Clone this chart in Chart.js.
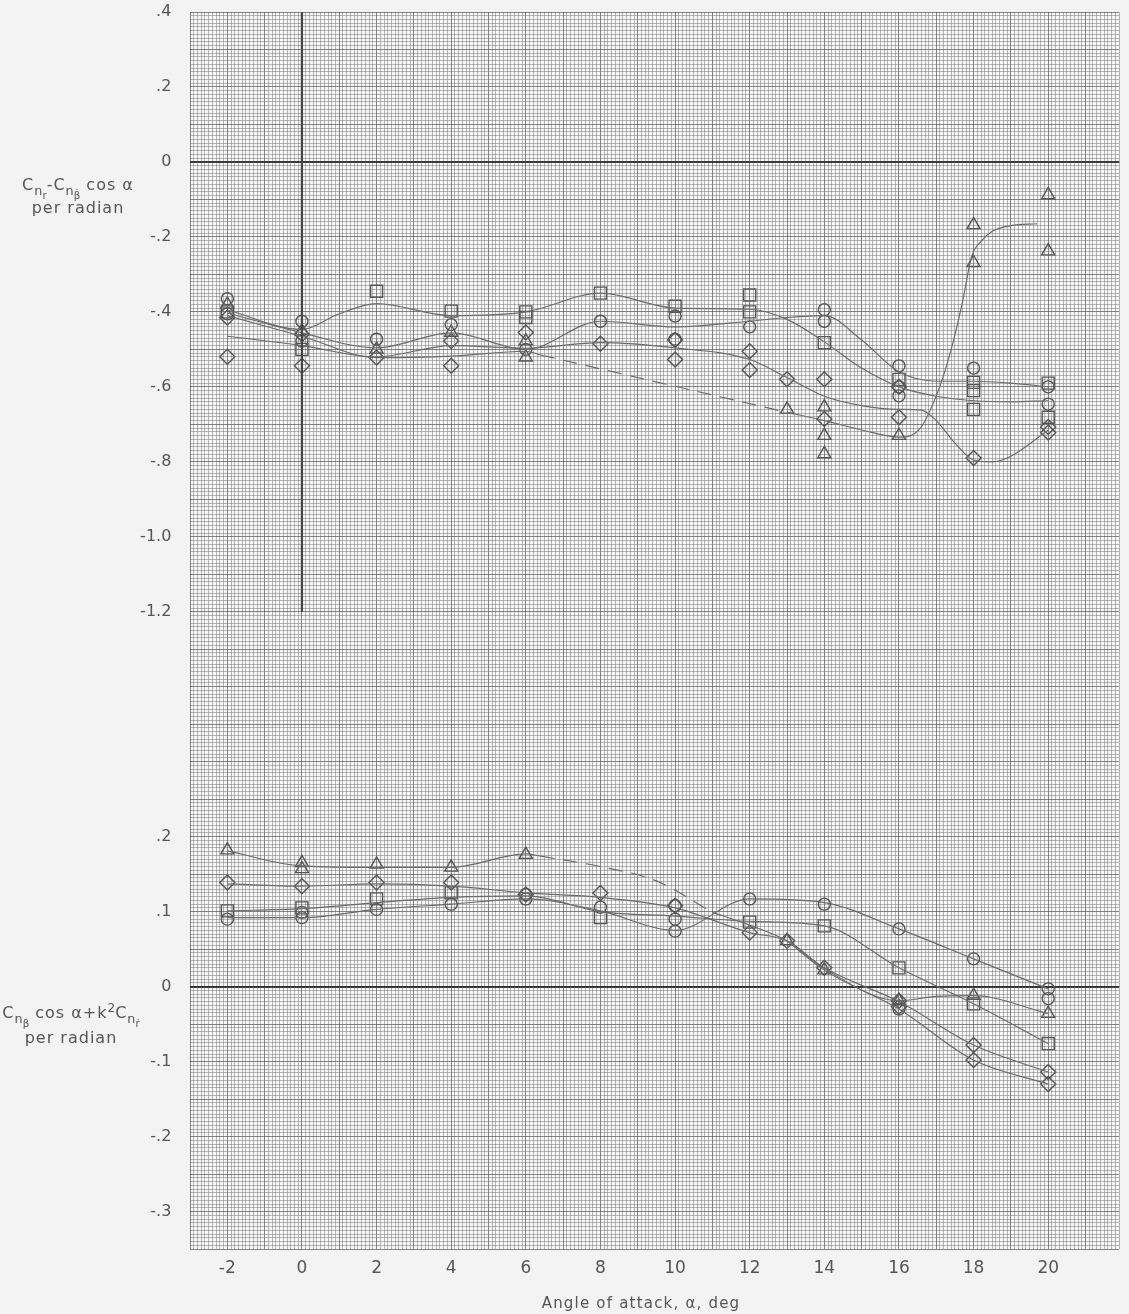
<!DOCTYPE html>
<html lang="en">
<head>
<meta charset="UTF-8">
<title>Yawing derivatives against angle of attack</title>
<style>
  html, body { margin: 0; padding: 0; background: #f3f3f3; }
  #wrap { position: relative; width: 1129px; height: 1314px; }
  canvas { display: block; background: #f3f3f3; }
  .lab {
    position: absolute; text-align: center; white-space: nowrap;
    font-family: "DejaVu Sans", sans-serif; color: #555;
  }
  .ylab { font-size: 16px; line-height: 23px; letter-spacing: 1px; }
  .ylab sub { font-size: 80%; vertical-align: -0.4em; line-height: 0; letter-spacing: 0; }
  .ylab sup { font-size: 75%; vertical-align: 0.5em; line-height: 0; letter-spacing: 0; }
  #xTitle { left: 531px; top: 1293px; width: 220px; font-size: 15px; line-height: 20px; letter-spacing: 1.2px; }
</style>
<script src="https://cdn.jsdelivr.net/npm/chart.js"></script>
</head>
<body>
<div id="wrap">
  <canvas id="derivChart" width="1129" height="1314"></canvas>
  <div class="lab ylab" style="left:2px; top:173px; width:152px;">C<sub>n<sub>r</sub></sub>-C<sub>n<sub>β̇</sub></sub> cos α<br>per radian</div>
  <div class="lab ylab" style="left:-4px; top:1000px; width:150px; line-height:25px;">C<sub>n<sub>β</sub></sub> cos α+k<sup>2</sup>C<sub>n<sub>ṙ</sub></sub><br>per radian</div>
  <div class="lab" id="xTitle">Angle of attack, α, deg</div>
</div>

<script>
    // angle of attack range of the graph paper
    const X_MIN = -3, X_MAX = 21.9;
    // upper panel scale (Cnr - Cnbetadot cos a), lower panel scale (Cnbeta cos a + k^2 Cnrdot)
    const UP_MIN = -2.9, UP_MAX = 0.4;
    const LO_MIN = -0.35, LO_MAX = 1.3;
    // y labels sit a little to the left of the paper edge
    const LABEL_X = X_MIN - 0.5;

    const xTickVals = [-2, 0, 2, 4, 6, 8, 10, 12, 14, 16, 18, 20];
    const upTickVals = [0.4, 0.2, 0, -0.2, -0.4, -0.6, -0.8, -1.0, -1.2];
    const upTickText = ['.4', '.2', '0', '-.2', '-.4', '-.6', '-.8', '-1.0', '-1.2'];
    const loTickVals = [0.2, 0.1, 0, -0.1, -0.2, -0.3];
    const loTickText = ['.2', '.1', '0', '-.1', '-.2', '-.3'];
    const axisSpan = [0.4, -1.2];   // dark alpha = 0 line in the upper panel

    // ---- upper panel, faired curves ----
    const upCircleA = [-2, 0, 2, 4, 6, 8, 10, 12, 13, 14, 15, 16, 17, 18, 19, 20];
    const upCircleV = [-0.403, -0.456, -0.496, -0.456, -0.50, -0.425, -0.44, -0.425, -0.415, -0.41, -0.475, -0.56, -0.585, -0.585, -0.59, -0.60];
    const upSquareA = [-2, 0, 1, 2, 4, 6, 8, 10, 12, 13, 14, 15, 16, 17, 18, 19, 20];
    const upSquareV = [-0.395, -0.447, -0.405, -0.378, -0.41, -0.40, -0.35, -0.39, -0.393, -0.42, -0.48, -0.55, -0.60, -0.625, -0.637, -0.64, -0.637];
    const upDiamondA = [-2, 0, 2, 4, 6, 8, 10, 12, 13, 14, 15, 16, 16.6, 17, 17.5, 18, 18.5, 19, 20];
    const upDiamondV = [-0.465, -0.49, -0.52, -0.49, -0.497, -0.482, -0.496, -0.527, -0.575, -0.625, -0.65, -0.66, -0.662, -0.69, -0.75, -0.795, -0.80, -0.785, -0.715];
    const upTriA1 = [-2, 0, 2, 4, 6, 6.4];
    const upTriV1 = [-0.41, -0.465, -0.522, -0.518, -0.505, -0.515];
    const upTriDashA = [6.4, 13];
    const upTriDashV = [-0.515, -0.668];
    const upTriA2 = [13, 14, 15, 16, 16.55, 17, 17.35, 17.7, 17.95, 18.2, 18.5, 19, 19.7];
    const upTriV2 = [-0.668, -0.69, -0.715, -0.734, -0.713, -0.624, -0.518, -0.375, -0.252, -0.212, -0.185, -0.17, -0.165];

    // ---- upper panel, test points ----
    const upCircPtA = [-2, -2, 0, 0, 2, 4, 6, 8, 10, 10, 12, 14, 14, 16, 16, 16, 18, 20, 20];
    const upCircPtV = [-0.365, -0.405, -0.425, -0.478, -0.473, -0.434, -0.50, -0.425, -0.411, -0.473, -0.44, -0.394, -0.425, -0.544, -0.60, -0.624, -0.55, -0.60, -0.646];
    const upSqPtA = [-2, 0, 2, 4, 6, 6, 8, 10, 12, 12, 14, 16, 18, 18, 18, 20, 20];
    const upSqPtV = [-0.40, -0.50, -0.345, -0.398, -0.40, -0.415, -0.35, -0.385, -0.355, -0.40, -0.482, -0.58, -0.588, -0.61, -0.66, -0.59, -0.681];
    const upDiaPtA = [-2, -2, 0, 0, 2, 4, 4, 6, 8, 10, 10, 12, 12, 13, 14, 14, 16, 16, 18, 20, 20];
    const upDiaPtV = [-0.415, -0.52, -0.46, -0.544, -0.522, -0.478, -0.544, -0.455, -0.485, -0.475, -0.527, -0.505, -0.555, -0.58, -0.58, -0.686, -0.60, -0.681, -0.79, -0.707, -0.722];
    const upTriPtA = [-2, 0, 2, 4, 6, 6, 13, 14, 14, 14, 16, 18, 18, 20, 20];
    const upTriPtV = [-0.38, -0.451, -0.50, -0.455, -0.478, -0.521, -0.66, -0.654, -0.73, -0.779, -0.73, -0.168, -0.269, -0.088, -0.238];

    // ---- lower panel, faired curves ----
    const loCircleA = [-2, 0, 2, 4, 6, 8, 10, 12, 14, 16, 18, 20];
    const loCircleV = [0.092, 0.092, 0.103, 0.110, 0.117, 0.101, 0.075, 0.117, 0.112, 0.077, 0.037, -0.003];
    const loSquareA = [-2, 0, 2, 4, 6, 8, 10, 12, 14, 16, 18, 20];
    const loSquareV = [0.101, 0.104, 0.112, 0.119, 0.121, 0.10, 0.094, 0.087, 0.081, 0.025, -0.023, -0.076];
    const loDiamondA = [-2, 0, 2, 4, 6, 8, 10, 12, 13, 14, 16, 18, 20];
    const loDiamondV = [0.137, 0.134, 0.137, 0.134, 0.125, 0.119, 0.105, 0.072, 0.061, 0.025, -0.02, -0.078, -0.114];
    const loDiamond2A = [13, 14, 16, 18, 20];
    const loDiamond2V = [0.061, 0.022, -0.03, -0.098, -0.130];
    const loTriA1 = [-2, 0, 2, 4, 6, 6.4];
    const loTriV1 = [0.181, 0.161, 0.159, 0.159, 0.177, 0.174];
    const loTriDashA = [6.4, 8, 9.5, 11];
    const loTriDashV = [0.174, 0.16, 0.141, 0.099];
    const loTriA2 = [11, 12, 13, 14, 16, 17, 18, 20];
    const loTriV2 = [0.099, 0.082, 0.061, 0.024, -0.019, -0.013, -0.012, -0.036];

    // ---- lower panel, test points ----
    const loCircPtA = [-2, 0, 0, 2, 4, 6, 6, 8, 10, 10, 10, 12, 14, 16, 16, 18, 20, 20];
    const loCircPtV = [0.09, 0.092, 0.099, 0.103, 0.110, 0.117, 0.123, 0.106, 0.108, 0.09, 0.074, 0.117, 0.110, 0.077, -0.030, 0.037, -0.003, -0.016];
    const loSqPtA = [-2, 0, 2, 4, 8, 12, 14, 16, 18, 20];
    const loSqPtV = [0.101, 0.105, 0.117, 0.125, 0.092, 0.086, 0.081, 0.025, -0.023, -0.076];
    const loDiaPtA = [-2, 0, 2, 4, 6, 8, 10, 12, 13, 14, 16, 16, 18, 18, 20, 20];
    const loDiaPtV = [0.139, 0.134, 0.139, 0.139, 0.123, 0.125, 0.108, 0.072, 0.061, 0.025, -0.019, -0.027, -0.078, -0.098, -0.114, -0.130];
    const loTriPtA = [-2, 0, 0, 2, 4, 6, 13, 14, 16, 18, 20];
    const loTriPtV = [0.182, 0.165, 0.157, 0.163, 0.159, 0.176, 0.061, 0.022, -0.019, -0.012, -0.036];

    const LINE_INK = '#6a6a6a';
    const MARK_INK = '#555';
    const FINE = 'rgba(95,95,95,0.42)';
    const MAJOR = 'rgba(65,65,65,0.62)';
    const ZERO = 'rgba(45,45,45,0.92)';

    function pts(a, v) {
        return a.map((x, i) => ({ x: x, y: v[i] }));
    }

    function curve(a, v, axis, dashed) {
        return {
            type: 'line', data: pts(a, v), yAxisID: axis,
            borderColor: LINE_INK, borderWidth: 1.15, pointRadius: 0,
            cubicInterpolationMode: 'monotone', borderDash: dashed ? [14, 9] : [],
            fill: false, showLine: true
        };
    }

    function marks(a, v, axis, style, r) {
        return {
            type: 'scatter', data: pts(a, v), yAxisID: axis,
            pointStyle: style, pointRadius: r, pointHoverRadius: r,
            pointBorderColor: MARK_INK, pointBackgroundColor: 'rgba(0,0,0,0)',
            pointBorderWidth: 1.4, showLine: false
        };
    }

    // major line every tenth fine division of the graph paper
    function paperColor(i) {
        return i % 10 === 0 ? MAJOR : FINE;
    }

    const paperFill = {
        id: 'paperFill',
        beforeDraw(chart) {
            const { ctx, chartArea: a } = chart;
            ctx.save();
            ctx.fillStyle = '#f6f6f6';
            ctx.fillRect(a.left, a.top, a.right - a.left, a.bottom - a.top);
            ctx.restore();
        }
    };

    Chart.defaults.font.family = '"DejaVu Sans", sans-serif';
    Chart.defaults.color = '#555';

    const datasets = [
        {
            type: 'line', data: axisSpan.map(y => ({ x: 0, y: y })), yAxisID: 'y',
            borderColor: '#444', borderWidth: 2.2, pointRadius: 0, fill: false
        },
        curve(upCircleA, upCircleV, 'y'),
        curve(upSquareA, upSquareV, 'y'),
        curve(upDiamondA, upDiamondV, 'y'),
        curve(upTriA1, upTriV1, 'y'),
        curve(upTriDashA, upTriDashV, 'y', true),
        curve(upTriA2, upTriV2, 'y'),
        marks(upCircPtA, upCircPtV, 'y', 'circle', 6),
        marks(upSqPtA, upSqPtV, 'y', 'rect', 8.5),
        marks(upDiaPtA, upDiaPtV, 'y', 'rectRot', 7.5),
        marks(upTriPtA, upTriPtV, 'y', 'triangle', 7.5),

        curve(loCircleA, loCircleV, 'y2'),
        curve(loSquareA, loSquareV, 'y2'),
        curve(loDiamondA, loDiamondV, 'y2'),
        curve(loDiamond2A, loDiamond2V, 'y2'),
        curve(loTriA1, loTriV1, 'y2'),
        curve(loTriDashA, loTriDashV, 'y2', true),
        curve(loTriA2, loTriV2, 'y2'),
        marks(loCircPtA, loCircPtV, 'y2', 'circle', 6),
        marks(loSqPtA, loSqPtV, 'y2', 'rect', 8.5),
        marks(loDiaPtA, loDiaPtV, 'y2', 'rectRot', 7.5),
        marks(loTriPtA, loTriPtV, 'y2', 'triangle', 7.5)
    ];

    function labelFor(vals, texts, value) {
        const k = vals.findIndex(v => Math.abs(v - value) < 1e-6);
        return k < 0 ? '' : texts[k];
    }

    const ctx = document.getElementById('derivChart').getContext('2d');
    new Chart(ctx, {
        type: 'scatter',
        data: { datasets: datasets },
        plugins: [paperFill],
        options: {
            responsive: false,
            animation: false,
            events: [],
            layout: { padding: { left: 190, top: 12, right: 0, bottom: 0 } },
            plugins: { legend: { display: false }, tooltip: { enabled: false } },
            scales: {
                x: {
                    type: 'linear', min: X_MIN, max: X_MAX,
                    afterFit: s => { s.height = 65; },
                    border: { display: false },
                    grid: {
                        drawTicks: false,
                        color: c => c.tick ? paperColor(Math.round((c.tick.value - X_MIN) * 10)) : FINE,
                        lineWidth: 1
                    },
                    ticks: {
                        stepSize: 0.1, autoSkip: false, maxRotation: 0, minRotation: 0,
                        padding: 9, font: { size: 17 }, color: '#555',
                        callback: v => labelFor(xTickVals, xTickVals.map(String), v)
                    }
                },
                y: {
                    type: 'linear', position: { x: LABEL_X }, min: UP_MIN, max: UP_MAX,
                    border: { display: false },
                    grid: {
                        drawTicks: false,
                        color: c => {
                            if (!c.tick) return FINE;
                            if (Math.abs(c.tick.value) < 1e-6) return ZERO;
                            return paperColor(Math.round((c.tick.value - UP_MIN) * 100));
                        },
                        lineWidth: c => (c.tick && Math.abs(c.tick.value) < 1e-6) ? 2 : 1
                    },
                    ticks: {
                        stepSize: 0.01, autoSkip: false, padding: 0,
                        font: { size: 16 }, color: '#555',
                        callback: v => labelFor(upTickVals, upTickText, v)
                    }
                },
                y2: {
                    type: 'linear', position: { x: LABEL_X }, min: LO_MIN, max: LO_MAX,
                    border: { display: false },
                    grid: {
                        drawTicks: false,
                        color: c => (c.tick && Math.abs(c.tick.value) < 1e-6) ? ZERO : 'rgba(0,0,0,0)',
                        lineWidth: c => (c.tick && Math.abs(c.tick.value) < 1e-6) ? 2 : 0
                    },
                    ticks: {
                        stepSize: 0.05, autoSkip: false, padding: 0,
                        font: { size: 16 }, color: '#555',
                        callback: v => labelFor(loTickVals, loTickText, v)
                    }
                }
            }
        }
    });
</script>
</body>
</html>
